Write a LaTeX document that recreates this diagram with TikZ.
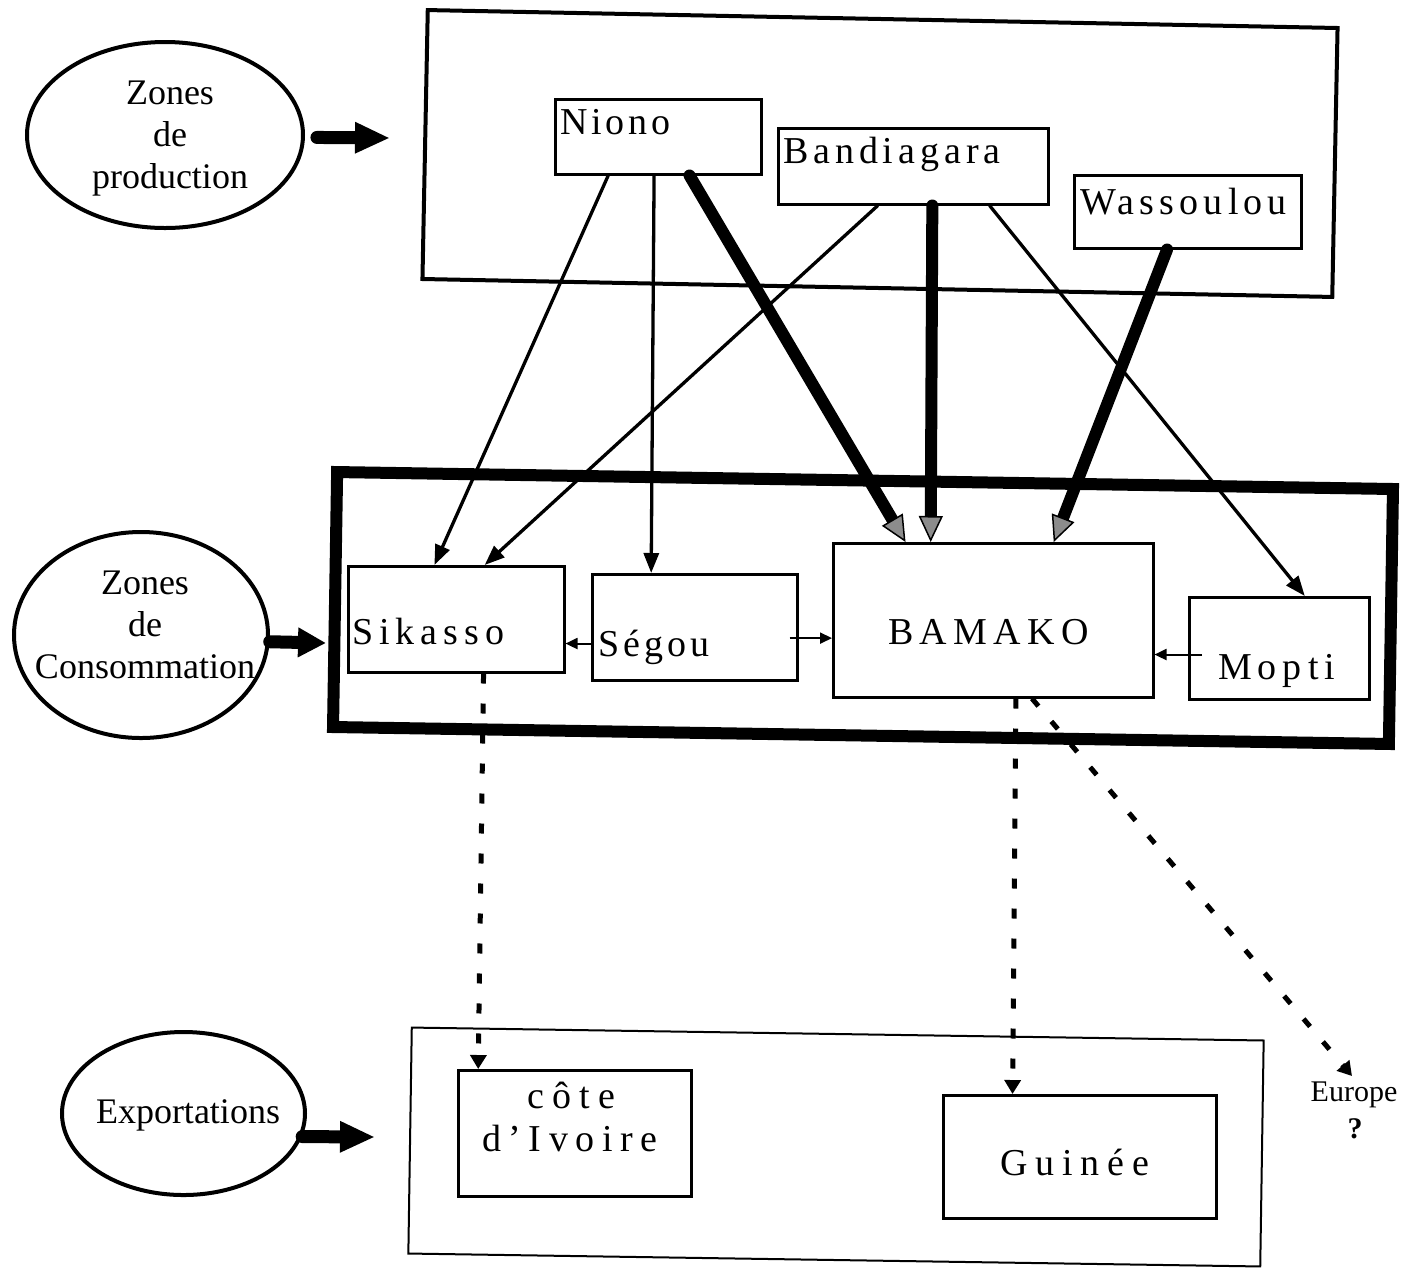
\documentclass[tikz,border=0pt]{standalone}
\usepackage{fontspec}
\setmainfont{Liberation Serif}
\usetikzlibrary{arrows.meta,calc,shapes.geometric}
\newcommand\lsp[2]{{\addfontfeature{LetterSpace=#1}#2}}
\begin{document}
\begin{tikzpicture}[x=1pt,y=-1pt,
  lbl/.style={font=\fontsize{36}{42}\selectfont, inner sep=0pt, outer sep=0pt},
  blbl/.style={font=\fontsize{38}{44}\selectfont, inner sep=0pt, outer sep=0pt, anchor=base west},
  zone/.style={ellipse, draw, line width=4pt, inner sep=0pt},
  cbox/.style={rectangle, draw, line width=2.5pt, inner sep=0pt, anchor=north west},
  thinarr/.style={line width=3.3pt, -{Triangle[length=20pt,width=15pt]}},
  thickarr/.style={line width=12pt, line cap=round, -{Triangle[length=26pt,width=24pt,fill=black!45,line width=1.5pt]}},
  smallarr/.style={line width=2pt, -{Triangle[length=12pt,width=11pt]}},
  dashedarr/.style={line width=5pt, dash pattern=on 10pt off 20pt, -{Triangle[length=14pt,width=16pt]}},
  blockarr/.style={line width=13pt, line cap=round, -{Triangle[length=35pt,width=29pt]}},
]
\useasboundingbox (0,0) rectangle (1407,1270);

% containers
\node[draw, line width=4pt, minimum width=910pt, minimum height=269pt, rotate=-1.13, inner sep=0pt] (prodzone) at (880,153.5) {};
\node[draw, line width=12pt, minimum width=1056pt, minimum height=255pt, rotate=-0.92, inner sep=0pt] (conszone) at (863,608) {};
\node[draw, line width=2pt, minimum width=852pt, minimum height=226pt, rotate=-0.87, inner sep=0pt] (expzone) at (836,1147) {};

% ellipses
\node[zone, minimum width=276pt, minimum height=186pt] (prodell) at (165,135) {};
\node[zone, minimum width=254pt, minimum height=206pt] (consell) at (141,635) {};
\node[zone, minimum width=243pt, minimum height=163pt] (expell) at (183.5,1113.5) {};
\node[lbl, align=center] (prodT) at (170,139) {Zones\\de\\production};
\node[lbl, align=center] (consT) at (145,625) {Zones\\de\\Consommation};
\node[lbl, anchor=base] (expT) at (188,1123) {Exportations};

% block arrows
\coordinate (a1e) at (390,138);
\coordinate (a2e) at (326,643);
\coordinate (a3e) at (375,1137);
\draw[blockarr] ([xshift=12pt]prodell.-1) -- (a1e);
\draw[blockarr, -{Triangle[length=28pt,width=28pt]}] (consell.-3.5) -- (a2e);
\draw[blockarr] (expell.-11.6) -- (a3e);

% boxes
\node[cbox, minimum width=206pt, minimum height=75pt] (niono) at (554,98) {};
\node[cbox, minimum width=270pt, minimum height=76pt] (bandiagara) at (777,127) {};
\node[cbox, minimum width=227pt, minimum height=73pt] (wassoulou) at (1073,174) {};
\node[cbox, minimum width=216pt, minimum height=106pt] (sikasso) at (347,565) {};
\node[cbox, minimum width=205pt, minimum height=106pt] (segou) at (591,573) {};
\node[cbox, minimum width=320pt, minimum height=154pt] (bamako) at (832,542) {};
\node[cbox, minimum width=180pt, minimum height=102pt] (mopti) at (1188,596) {};
\node[cbox, minimum width=233pt, minimum height=126pt] (cote) at (457,1069) {};
\node[cbox, minimum width=273pt, minimum height=123pt] (guinee) at (942,1094) {};

% labels
\node[blbl] (nionoT) at (560,134) {\lsp{10}{Niono}};
\node[blbl] (bandT) at (783,163) {\lsp{13}{Bandiagara}};
\node[blbl] (wassT) at (1080,214) {\lsp{13.5}{Wassoulou}};
\node[blbl] (sikT) at (352,644) {\lsp{16}{Sikasso}};
\node[blbl] (segT) at (598,656) {\lsp{11}{Ségou}};
\node[blbl] (bamT) at (888,644) {\lsp{17}{BAMAKO}};
\node[blbl] (mopT) at (1218,679) {\lsp{16}{Mopti}};
\node[blbl] (coteT) at (527,1108) {\lsp{22}{côte}};
\node[blbl] (ivoT) at (482,1151) {\lsp{20}{d’Ivoire}};
\node[blbl] (guiT) at (1000,1175) {\lsp{21}{Guinée}};
\node[inner sep=0pt, font=\fontsize{30}{34}\selectfont, anchor=base] (euT) at (1354,1101) {Europe};
\node[inner sep=0pt, font=\fontsize{30}{34}\selectfont\bfseries, anchor=base] (euQ) at (1355,1138) {?};

% production flows
\draw[thinarr] ($(niono.south west)!0.26!(niono.south east)$) -- ($(sikasso.north west)!0.40!(sikasso.north east)$);
\draw[thinarr] ($(niono.south west)!0.48!(niono.south east)$) -- ($(segou.north west)!0.29!(segou.north east)$);
\draw[thickarr] ($(niono.south west)!0.65!(niono.south east)$) -- ($(bamako.north west)!0.228!(bamako.north east)$);
\draw[thinarr] ($(bandiagara.south west)!0.37!(bandiagara.south east)$) -- ($(sikasso.north west)!0.63!(sikasso.north east)$);
\draw[thickarr] ($(bandiagara.south west)!0.57!(bandiagara.south east)$) -- ($(bamako.north west)!0.306!(bamako.north east)$);
\draw[thinarr] ($(bandiagara.south west)!0.78!(bandiagara.south east)$) -- ($(mopti.north west)!0.64!(mopti.north east)$);
\draw[thickarr] ($(wassoulou.south west)!0.41!(wassoulou.south east)$) -- ($(bamako.north west)!0.6875!(bamako.north east)$);

% internal flows
\coordinate (sg1) at ($(segou.north west)!0.65!(segou.south west)$);
\coordinate (sg2) at ($(segou.north east)!0.6!(segou.south east)$);
\coordinate (mp1) at ($(mopti.north west)!0.56!(mopti.south west)$);
\draw[smallarr] (sg1) -- (sikasso.east |- sg1);
\draw[smallarr] ([xshift=-9pt]sg2) -- (bamako.west |- sg2);
\draw[smallarr] ([xshift=14pt]mp1) -- (bamako.east |- mp1);

% exports
\coordinate (euTip) at (1352,1076);
\draw[dashedarr] ($(sikasso.south west)!0.625!(sikasso.south east)$) -- ($(cote.north west)!0.09!(cote.north east)$);
\draw[dashedarr] ($(bamako.south west)!0.57!(bamako.south east)$) -- ($(guinee.north west)!0.256!(guinee.north east)$);
\draw[dashedarr] ($(bamako.south west)!0.62!(bamako.south east)$) -- (euTip);
\end{tikzpicture}
\end{document}
